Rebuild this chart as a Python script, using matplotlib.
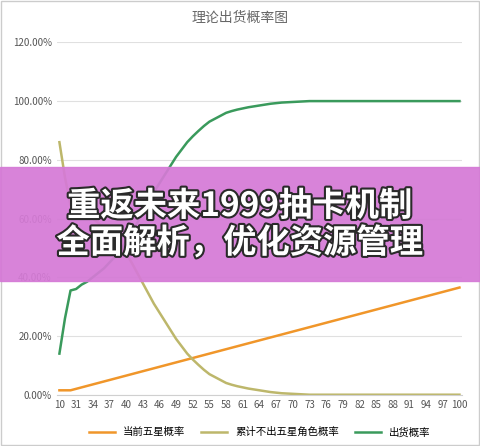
import matplotlib
matplotlib.use("Agg")
import matplotlib.pyplot as plt
import matplotlib.patheffects as pe

plt.rcParams['font.family'] = ['Noto Sans CJK SC', 'DejaVu Sans']

pulls = [10, 20, 30] + list(range(31, 101))
rate = [1.5, 1.5, 1.5,
        2.0, 2.5, 3.0, 3.5, 4.0, 4.5, 5.0, 5.5, 6.0, 6.5,
        7.0, 7.5, 8.0, 8.5, 9.0, 9.5, 10.0, 10.5, 11.0, 11.5,
        12.0, 12.5, 13.0, 13.5, 14.0, 14.5, 15.0, 15.5, 16.0, 16.5,
        17.0, 17.5, 18.0, 18.5, 19.0, 19.5, 20.0, 20.5, 21.0, 21.5,
        22.0, 22.5, 23.0, 23.5, 24.0, 24.5, 25.0, 25.5, 26.0, 26.5,
        27.0, 27.5, 28.0, 28.5, 29.0, 29.5, 30.0, 30.5, 31.0, 31.5,
        32.0, 32.5, 33.0, 33.5, 34.0, 34.5, 35.0, 35.5, 36.0, 36.5]
got = [14, 26, 35.5,
       36, 37.5, 38.5, 40, 41.5, 43, 45, 47, 49.5, 52,
       55, 58.5, 62, 65.5, 69, 72, 75, 78, 81, 83.5,
       86, 88, 89.8, 91.5, 93, 94, 95, 96, 96.6, 97.1,
       97.5, 97.9, 98.2, 98.5, 98.8, 99.1, 99.3, 99.5, 99.6, 99.7,
       99.8, 99.9] + [100] * 28
miss = [86, 74, 64.5,
        64, 62.5, 61.5, 60, 58.5, 57, 55, 53, 50.5, 48,
        45, 41.5, 38, 34.5, 31, 28, 25, 22, 19, 16.5,
        14, 12, 10.2, 8.5, 7, 6, 5, 4, 3.4, 2.9,
        2.5, 2.1, 1.8, 1.5, 1.2, 0.9, 0.7, 0.5, 0.4, 0.3,
        0.2, 0.1] + [0] * 28

fig = plt.figure(figsize=(4.8, 4.46), dpi=100)
ax = fig.add_axes([0.118, 0.115, 0.845, 0.79])
x = list(range(len(pulls)))
ax.plot(x, rate, color='#f0962a', lw=1.8, label='当前五星概率')
ax.plot(x, miss, color='#bdb76b', lw=1.8, label='累计不出五星角色概率')
ax.plot(x, got, color='#3a9a5c', lw=1.8, label='出货概率')
ax.set_ylim(0, 120)
ax.set_yticks(range(0, 121, 20))
ax.set_yticklabels([f'{v:.2f}%' for v in range(0, 121, 20)], fontsize=7, color='#555555')
ax.set_xticks(x[::3])
ax.set_xticklabels([str(p) for p in pulls[::3]], fontsize=7, color='#555555')
ax.set_xlim(-0.5, len(x) - 0.5)
ax.grid(axis='y', color='#e0e0e0', lw=0.8)
for s in ['top', 'right', 'left']:
    ax.spines[s].set_visible(False)
ax.spines['bottom'].set_color('#d0d0d0')
ax.tick_params(length=0)
ax.legend(loc='upper center', bbox_to_anchor=(0.5, -0.065), ncol=3, frameon=False,
          fontsize=7.5, handlelength=2.5, columnspacing=1.5)
fig.text(0.5, 0.96, '理论出货概率图', ha='center', va='center', fontsize=10, color='#666666')

fig.patches.append(plt.Rectangle((0, 0.37), 1, 0.255, transform=fig.transFigure,
                                 color='#d57ad6', alpha=0.93, zorder=5))
for yy, t in [(0.537, '重返未来1999抽卡机制'), (0.455, '全面解析，优化资源管理')]:
    fig.text(0.5, yy, t, ha='center', va='center', fontsize=24, fontweight='bold',
             color='white', zorder=6,
             path_effects=[pe.withStroke(linewidth=3, foreground='#2a2a2a')])
fig.patches.append(plt.Rectangle((0.002, 0.002), 0.996, 0.996, transform=fig.transFigure,
                                 fill=False, ec='#cccccc', lw=1))
fig.savefig('out.png', dpi=100)
